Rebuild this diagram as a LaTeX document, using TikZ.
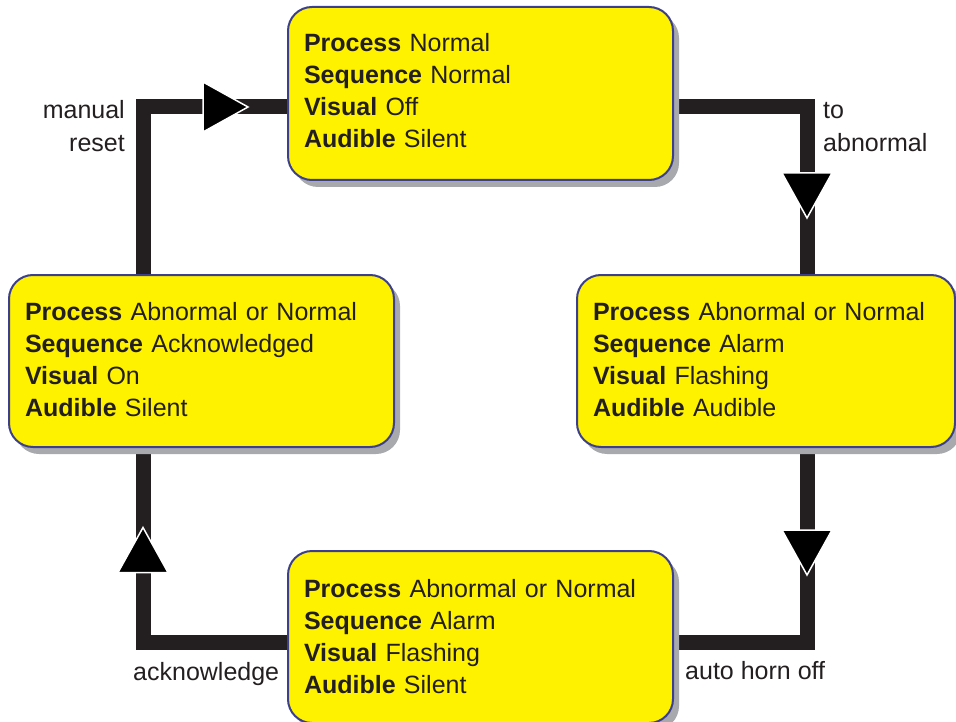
\documentclass[tikz,border=0pt]{standalone}
\usepackage{fontspec}
\setmainfont{Liberation Sans}
\usetikzlibrary{shadows,backgrounds}
\definecolor{boxyellow}{HTML}{FFF200}
\definecolor{boxborder}{HTML}{3C3F8E}
\definecolor{shadowgray}{HTML}{A7A9AC}
\definecolor{ink}{HTML}{231F20}
\newcommand{\lastdepth}[1]{\rule[-#1]{0pt}{#1}}
\begin{document}
\begin{tikzpicture}[x=1pt,y=-1pt,
  statebox/.style={draw=boxborder, line width=2pt, fill=boxyellow,
    rounded corners=24pt, align=left, anchor=center,
    inner xsep=16pt, inner ysep=0pt, text=ink,
    font=\fontsize{25}{32}\selectfont,
    drop shadow={shadow xshift=6pt, shadow yshift=-7pt, fill=shadowgray, opacity=1, draw=none}},
  conn/.style={draw=ink, line width=15pt, line join=miter, line cap=butt},
  arrowtri/.style={fill=black, draw=white, line width=1.5pt, line join=miter},
  lbl/.style={text=ink, font=\fontsize{25}{32}\selectfont, inner sep=0pt}]
\useasboundingbox (0,0) rectangle (956,722);

% corner coordinates of the connectors
\coordinate (c0) at (143,107);
\coordinate (c1) at (807,107);
\coordinate (c2) at (807,642);
\coordinate (c3) at (143,642);

% boxes
\node[statebox, minimum width=385pt, minimum height=173pt, text width=353pt] (top) at (480.5,93.5)
  {\textbf{Process} Normal\\\textbf{Sequence} Normal\\\textbf{Visual} Off\\\textbf{Audible} Silent\lastdepth{7pt}};
\node[statebox, minimum width=378pt, minimum height=172pt, text width=346pt] (right) at (766,361)
  {\textbf{Process} Abnormal or Normal\\\textbf{Sequence} Alarm\\\textbf{Visual} Flashing\\\textbf{Audible} Audible\lastdepth{3pt}};
\node[statebox, minimum width=385pt, minimum height=172pt, text width=353pt] (left) at (201.5,361)
  {\textbf{Process} Abnormal or Normal\\\textbf{Sequence} Acknowledged\\\textbf{Visual} On\\\textbf{Audible} Silent\lastdepth{3pt}};
\node[statebox, minimum width=385pt, minimum height=172pt, text width=353pt] (bottom) at (480.5,637)
  {\textbf{Process} Abnormal or Normal\\\textbf{Sequence} Alarm\\\textbf{Visual} Flashing\\\textbf{Audible} Silent\lastdepth{1pt}};

% connectors (behind boxes)
\begin{scope}[on background layer]
\draw[conn] (c0 |- left.north) -- (c0) -- (c0 -| top.west);
\draw[conn] (c1 -| top.east) -- (c1) -- (c1 |- right.north);
\draw[conn] (c2 |- right.south) -- (c2) -- (c2 -| bottom.east);
\draw[conn] (c3 -| bottom.west) -- (c3) -- (c3 |- left.south);
\end{scope}

% arrowheads
\filldraw[arrowtri, shift={(225.5,107)}] (-22.5,-25) -- (22.5,0) -- (-22.5,25) -- cycle;
\filldraw[arrowtri, shift={(807,195.5)}, rotate=-90] (-22.5,-25) -- (22.5,0) -- (-22.5,25) -- cycle;
\filldraw[arrowtri, shift={(807,552.5)}, rotate=-90] (-22.5,-25) -- (22.5,0) -- (-22.5,25) -- cycle;
\filldraw[arrowtri, shift={(143,550)}, rotate=90] (-22.5,-25) -- (22.5,0) -- (-22.5,25) -- cycle;

% labels
\node[lbl, anchor=base east] (lmanual) at (125,119) {manual};
\node[lbl, anchor=base east] (lreset) at (125,152) {reset};
\node[lbl, anchor=base west] (lto) at (823,119) {to};
\node[lbl, anchor=base west] (labn) at (823,152) {abnormal};
\node[lbl, anchor=base west] (lack) at (133,680) {acknowledge};
\node[lbl, anchor=base west] (lauto) at (685,679) {auto horn off};
\end{tikzpicture}
\end{document}
